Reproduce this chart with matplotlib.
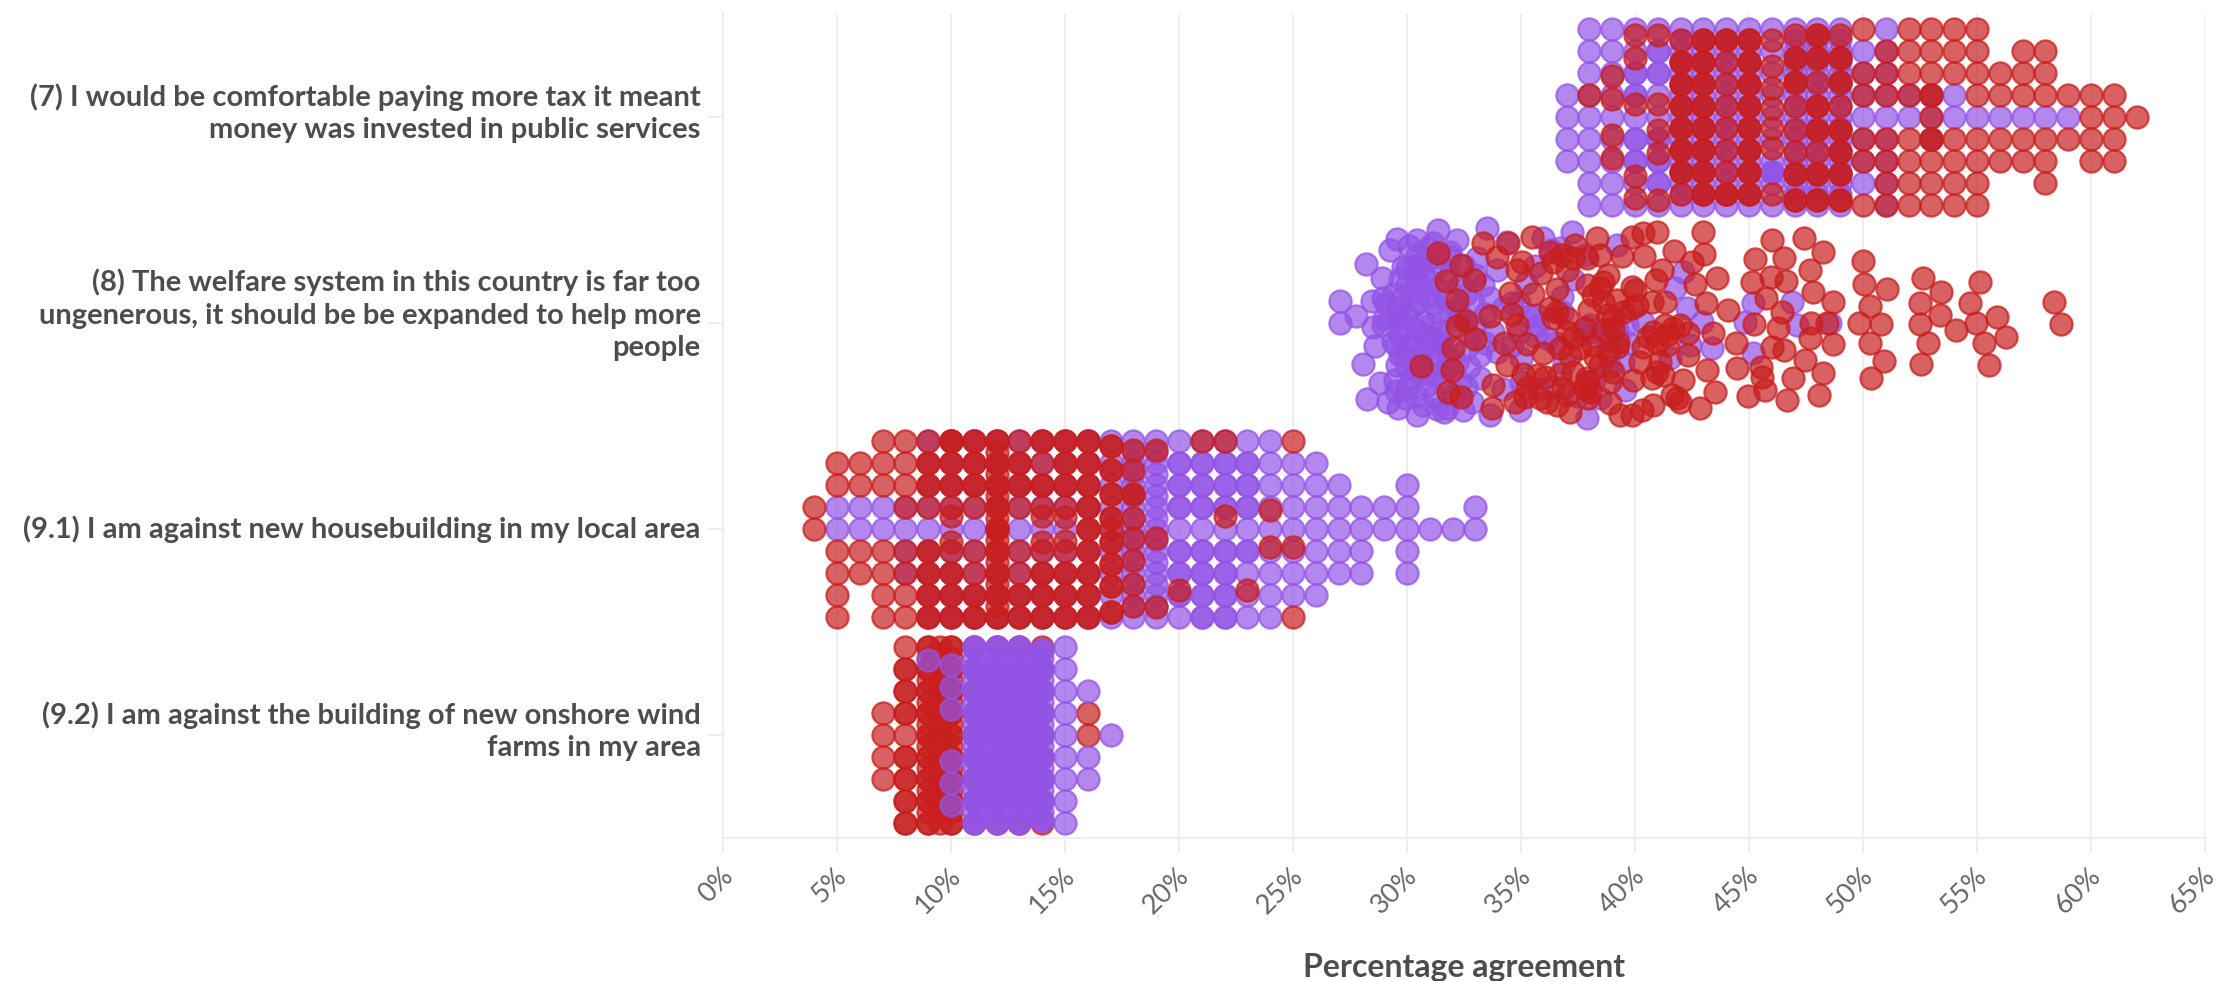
import matplotlib
matplotlib.use('Agg')
import matplotlib.pyplot as plt
from matplotlib.transforms import ScaledTranslation

questions = [
    '(7) I would be comfortable paying more tax it meant\nmoney was invested in public services',
    '(8) The welfare system in this country is far too\nungenerous, it should be be expanded to help more\npeople',
    '(9.1) I am against new housebuilding in my local area',
    '(9.2) I am against the building of new onshore wind\nfarms in my area',
]
x_ticks = list(range(0, 66, 5))
x_title = 'Percentage agreement'

ALL = [-4, -3, -2, -1, 0, 1, 2, 3, 4]
EVEN = [-3.5, -2.5, -1.5, -0.5, 0.5, 1.5, 2.5, 3.5]
WIDE = [-3.75, -2.7, -1.6, -0.5, 0.6, 1.6, 2.6, 3.75]
HALF = EVEN

# whole-percent questions: one list of swarm rows per percentage
q7_purple_pct = [37, 38, 39, 40, 41, 42, 43, 44, 45, 46, 47, 48, 49, 50, 51, 52, 53, 54, 55, 56, 57, 58, 59]
q7_purple_rows = [
    [-1, 0, 1, 2], ALL, ALL, ALL + [-2, -1, 1, 2], ALL + [-3, -2, 1, 2, 3],
    ALL + HALF, ALL + HALF, ALL + HALF, ALL + HALF, ALL + [2.5, 2.5, 2.5], ALL + HALF, ALL + HALF, ALL + HALF,
    [-3, -2, -1, 0, 1, 2, 3], ALL, [-1, 0], [-1, 0, 1], [-1, 0], [0], [0], [0], [0], [0],
]
q7_red_pct = [38, 39, 40, 41, 42, 43, 44, 45, 46, 47, 48, 49, 50, 51, 52, 53, 54, 55, 56, 57, 58, 59, 60, 61, 62]
q7_red_rows = [
    [-1], [-1.85, -0.8, 0.8, 1.85], [-3.75, -2.7, -0.6, 2.7, 3.7], [-3.75, -0.6, 0.6, 1.65, 3.75],
    EVEN + [-2.5, -1.5, -0.5, 0.5, 1.5, 2.5], EVEN + EVEN, EVEN + [-3.5, 3.5], EVEN + EVEN,
    [-3.5, -2.3, -1.3, -0.4, 0.5, 1.4, 3.5],
    WIDE + [-2.7, -1.6, 2.6, 3.75], WIDE + [-3.75, -2.7, -0.5, 0.6, 2.6, 3.75], WIDE + [-2.7, -1.6, 0.6, 1.6, 2.6, 3.75],
    [-4, -2, -1, 1, 2, 4], [-3, -2, -1, 1, 2, 3, 4], [-4, -3, -2, -1, 1, 2, 3, 4],
    [-4, -3, -2, -1, -1, 0, 1, 1, 2, 3, 4], [-4, -3, -2, 1, 2, 3, 4], [-4, -3, -2, -1, 1, 2, 3, 4],
    [-2, -1, 1, 2], [-3, -2, -1, 1, 2], [-3, -2, -1, 1, 2, 3], [-1, 1], [-1, 0, 1, 2], [-1, 0, 1, 2], [0],
]

# the welfare question has decimals, so percentage and swarm row per respondent
q8_purple_pct = [28.2, 28.89, 29.25, 29.57, 30.42, 31.37, 32.18, 33.49, 27.06, 27.76, 27.06, 28.45, 28.96, 28.52, 28.6, 28.08,
    28.81, 28.23, 29.18, 29.62, 30.45, 31.61, 32.47, 33.64, 34.95, 29.47, 29.55, 29.84, 30.42, 31.15, 31.88, 29.98, 30.71,
    31.45, 29.55, 30.5, 31.3, 28.96, 29.84, 30.71, 31.37, 29.4, 30.28, 31.08, 30.42, 31.15, 29.98, 30.86, 30.71, 31.74,
    29.69, 32.18, 32.91, 33.35, 33.05, 32.32, 32.18, 33.2, 33.2, 32.83, 33.93, 34.37, 35.98, 37.22, 35.76, 36.12, 35.69,
    33.79, 33.93, 33.64, 32.32, 31.59, 31.45,
    30.0, 30.8, 30.2, 31.0, 29.5, 30.6, 31.9, 31.6, 30.0, 30.3, 30.9, 29.9, 31.2, 31.9, 32.5, 32.8, 32.6, 29.3, 29.1,
    36.3, 37.3, 36.8, 36.5, 36.9, 36.4, 37.5, 35.2, 35.0, 34.6,
    39.2, 42.12, 41.76, 42.27, 42.93, 43.36, 45.19, 46.87, 44.83, 47.09, 48.55, 45.19, 41.54, 38.03, 39.64, 40.37, 37.88,
    39.56, 39.49, 39.71, 38.47, 42.41,
    29.0, 29.4, 29.8, 30.2, 30.5, 30.9, 31.2, 31.7, 29.7, 30.4, 31.0, 31.4, 31.9, 32.3, 29.7, 30.3, 30.7, 31.2, 31.8, 29.9,
    30.2, 30.7, 31.2, 31.7, 29.5, 30.4, 31.3, 32.0, 32.6, 32.7, 33.4, 33.0, 33.4, 32.6, 33.0, 32.5, 31.9, 31.3, 30.9, 30.1,
    30.0, 30.5, 29.7,
    34.2, 34.9, 35.4, 34.6, 34.9, 35.6, 35.0, 34.2, 35.8, 36.8, 37.7, 38.3, 38.8, 39.2, 35.6, 36.7, 37.8, 38.2, 38.9]
q8_purple_row = [-2.68, -2.03, -3.32, -3.82, -3.77, -4.23, -3.77, -4.3, -1.0, -0.33, 0.02, -1.0, -1.12, 0.17, 1.03, 1.86,
    2.71, 3.45, 3.61, 3.88, 4.18, 4.03, 3.95, 4.18, 3.95, 2.59, 1.91, -2.56, -3.09, -3.62, -3.24, -1.73, -2.18,
    -2.64, -0.67, -0.97, -1.58, 0.09, 0.24, -0.06, -0.52, 0.85, 1.15, 0.7, 2.21, 1.76, 2.97, 2.82, 3.73, 3.88,
    1.45, -0.67, -0.97, -1.73, -2.94, -1.73, 1.76, 1.45, 2.52, 3.58, -2.41, -3.7, -3.85, -4.15, 0.09, 0.7, -0.36,
    0.39, 1.3, -1.12, 2.67, 2.67, 0.85,
    -0.3, 0.5, -1.4, -1.9, 1.0, 1.7, 0.3, 1.1, 2.0, -2.6, -2.9, 3.4, 3.3, -2.2, -0.2, 0.6, 1.2, -0.3, -0.9,
    -3.3, -2.0, -1.2, 0.9, 1.8, 2.9, 3.3, -1.8, 1.6, -0.9,
    -3.55, -2.33, -1.58, -0.67, -0.06, 1.15, -0.89, -0.97, -0.06, 0.09, 0.02, 1.38, 1.61, 0.09, 0.09, -0.06, 4.33,
    3.05, 1.76, 0.92, 3.42, 1.0,
    -0.2, -1.3, -1.1, -0.7, -1.8, -1.2, -0.9, -1.1, -0.2, 0.3, 0.1, 0.4, -0.5, -0.2, 0.6, 0.8, 1.2, 1.4, 1.6, 1.5,
    2.5, 2.3, 2.3, 2.1, 3.1, 3.3, 3.9, 3.3, 2.9, 2.0, 0.9, 0.1, -0.4, -1.3, -2.2, -2.6, -3.0, -3.0, -3.4, -3.5,
    -2.5, -2.5, -2.0,
    -0.7, -0.9, -0.3, 1.0, 0.4, 0.6, 2.7, 3.0, 3.0, -0.5, 0.5, 0.4, 0.8, 0.3, -2.6, -3.4, -3.1, 2.6, 2.0]
q8_red_pct = [31.37, 32.35, 32.94, 31.71, 32.18, 32.59, 32.18, 32.98, 32.03, 31.97, 30.6, 31.81, 32.35, 33.35, 34.44, 35.47,
    37.37, 36.27, 33.93, 34.81, 35.03, 35.86, 34.52, 35.51, 33.64, 34.59, 34.81, 34.27, 35.28, 35.98, 34.37, 35.07, 33.79,
    33.71, 34.74, 35.17, 36.05, 36.71, 36.12, 36.86, 37.15, 37.15, 36.56, 37.0, 36.27, 37.0, 37.0,
    38.32, 39.42, 39.86, 40.37, 40.98, 40.4, 41.73, 42.49, 43.03, 43.0, 43.58, 42.63, 43.12, 41.17, 40.92, 39.89, 38.83,
    38.17, 37.88, 38.0, 39.05, 38.61, 39.86, 40.73, 41.32, 41.32, 41.98, 42.34, 40.59, 40.37, 39.2, 38.17, 41.39, 42.34,
    43.44, 39.05, 39.93, 38.9, 40.95, 42.12, 43.15, 43.51, 41.83, 40.81, 40.3, 39.86, 39.34, 38.9, 37.96, 37.88, 42.85,
    38.25, 40.22, 41.1, 38.83, 37.81,
    44.1, 44.43, 44.46, 46.0, 47.41, 48.23, 45.27, 46.54, 47.68, 45.12, 45.95, 46.63, 47.82, 48.7, 45.73, 46.44, 45.24,
    46.26, 47.71, 48.41, 47.68, 48.7, 46.54, 46.0, 47.46, 45.53, 45.56, 48.23, 46.95, 45.7, 44.97, 46.65, 48.07,
    49.99, 50.03, 51.04, 50.3, 49.81, 50.81, 50.32, 50.92, 50.37, 52.65, 53.43, 52.49, 53.39, 52.49, 54.06, 52.87, 52.56,
    55.11, 54.68, 54.95, 55.89, 56.29, 55.29, 55.51, 58.38, 58.69,
    37.88, 38.03, 38.47, 39.05, 39.27, 38.61, 38.47, 39.2, 38.83, 39.49, 40.81, 40.95, 41.39, 41.68, 40.73, 41.24, 41.61,
    41.98, 40.08, 40.0, 38.61, 37.88, 38.47,
    36.42, 36.56, 37.3, 36.71, 37.59, 37.3, 37.81, 36.42, 36.78, 37.29, 35.25, 35.69, 35.83, 36.56, 37.0]
q8_red_row = [-3.17, -2.64, -1.95, -1.91, -1.05, -0.09, 0.14, 0.73, 1.12, 2.14, 1.94, 3.12, 3.35, -3.62, -3.62, -3.92,
    -3.55, -3.21, -3.02, -2.41, -2.79, -2.26, -1.35, -1.32, -0.32, -0.39, 0.09, 0.92, 0.97, 1.38, 1.91, 2.33, 2.82,
    3.85, 3.58, 3.35, 2.44, 2.33, 3.58, 2.97, 4.03, 1.45, -1.55, -2.41, -0.67, -0.21, 0.39,
    -3.85, -3.06, -3.92, -4.08, -4.15, -3.06, -3.27, -2.79, -3.12, -4.12, -2.06, -1.76, -0.89, -2.41, -1.95, -1.65, -2.18,
    -1.27, -1.73, -0.59, -0.24, 0.32, -0.7, -0.94, -0.97, 0.09, 0.09, 0.47, 0.62, 1.08, 1.08, 1.0, 1.0, 1.45,
    0.47, 2.21, 2.59, 2.67, 2.21, 2.59, 2.14, 3.15, 3.42, 3.73, 3.95, 4.18, 4.18, 3.65, 3.42, 2.52, 3.88,
    1.53, 1.76, 1.76, 1.3, 0.24,
    -0.59, 0.89, 2.06, -3.77, -3.85, -3.24, -2.89, -2.94, -2.41, -1.88, -2.11, -1.92, -1.42, -0.94, -1.12, -0.52, 0.06,
    0.21, 0.02, 0.02, 0.7, 0.97, 1.23, 1.11, 1.68, 1.98, 2.44, 2.29, 2.52, 3.05, 3.3, 3.5, 3.27,
    -2.82, -1.77, -1.53, -0.77, 0.02, 0.05, 0.92, 1.71, 2.52, -2.03, -1.39, -0.92, -0.36, 0.05, 0.32, 0.92, 1.86,
    -1.85, -0.92, 0.02, -0.29, 0.65, 0.92, 1.91, -0.97, 0.05,
    2.67, 3.12, 1.91, 0.24, 0.85, -0.97, -1.58, -1.05, -0.36, -0.52, 0.39, 0.92, 0.55, 0.24, 2.52, 2.36, 3.27,
    3.58, -0.82, -1.5, -1.88, -2.94, -3.09,
    -0.21, -0.52, 0.7, 1.15, 1.15, 2.21, 2.97, -2.79, -3.09, -2.94, 2.97, 2.36, 3.42, 3.73, 3.27]

q91_purple_pct = [5, 6, 7, 8, 9, 10, 11, 12, 13, 14, 15, 16, 17, 18, 19, 20, 21, 22, 23, 24, 25, 26, 27, 28, 29, 30, 31, 32, 33]
q91_purple_rows = [
    [-1, 0], [-1, 0], [-1, 0], [-1, 0, 1, 2], ALL, ALL, ALL, ALL, ALL, ALL, ALL, ALL, ALL, ALL + HALF, ALL + HALF,
    ALL + [-3, -2, -1, 1, 2, 3], ALL + [-3, -2, -1, 1, 2, 3, 4], ALL + [-3, -2, -1, 1, 2, 3, 4], ALL + [-3, -2, -1, 1],
    ALL, [-3, -2, -1, 0, 1, 2, 3], [-3, -2, -1, 0, 1, 2, 3], [-2, -1, 0, 1, 2], [-1, 0, 1, 2], [-1, 0],
    [-2, -1, 0, 1, 2], [0], [0], [-1, 0],
]
q91_red_pct = [4, 5, 6, 7, 8, 9, 10, 11, 12, 13, 14, 15, 16, 17, 18, 19, 20, 21, 22, 23, 24, 25]
q91_red_rows = [
    [-1, 0], [-3, -2, 1, 2, 3, 4], [-3, -2, 1, 2], [-4, -3, -2, 1, 2, 3, 4], [-4, -3, -2, -1, 1, 2, 3, 4],
    [-4, -3, -3, -2, -2, -1, 1, 1, 2, 2, 3, 3, 4, 4],
    [-4, -4, -4, -3, -3, -2, -2, -1, -0.6, 0.6, 1, 2, 2, 3, 3, 4, 4],
    [-4, -4, -3, -3, -2, -2, -1, 1, 2, 3, 3, 4, 4],
    ALL + ALL + EVEN + [0],
    [-4, -3, -3, -2, -2, -1, 1, 2, 3, 3, 4, 4],
    [-4, -4, -3, -2, -2, -1, -0.6, 0.6, 1, 2, 2, 3, 3, 4, 4],
    [-4, -4, -3, -3, -2, -2, -1, -0.55, 0.55, 1, 2, 2, 3, 3, 4, 4],
    ALL + ALL, WIDE + WIDE + [0], [-3.6, -2.7, -1.6, -1.6, -0.5, 0.4, 1.4, 2.5, 3.5],
    [-3.6, 0.4, 3.55], [2.75], [-4], [-4, -0.6], [2.75], [-0.85, 0.8], [-4, 0.8, 4],
]

q92_red_pct = [7, 8, 9, 9.5, 10, 11, 12, 13, 14, 16]
q92_red_rows = [
    [-1, 0, 1, 2], [-4, -3, -3, -2, -2, -1, -1, 0, 1, 1, 2, 2, 3, 3, 4, 4],
    ALL + ALL + EVEN, ALL + EVEN, ALL + ALL + EVEN, ALL, ALL, ALL, ALL, [-1, 0],
]
q92_purple_pct = [9, 10, 11, 11.5, 12, 12.5, 13, 13.5, 14, 15, 16, 17]
q92_purple_rows = [
    [-3.4], [-3.2, -2.2, -1.2, 1.2, 2.2, 3.2],
    ALL + ALL + EVEN, EVEN + ALL[1:-1], ALL + ALL + EVEN, EVEN + ALL[1:-1], ALL + ALL + EVEN, EVEN + ALL[1:-1],
    [-3.85, -3, -2, -1, 0, 1, 2, 3, 3.85] * 2 + EVEN,
    ALL, [-2, 1, 2], [0],
]

PURPLE = '#9354e6'
RED = '#c81e1e'
GRID = '#eeeeee'
W, H = 2222, 981
left, right, top, bottom = 723, 2205, 14, 838
row_step = 22 / ((bottom - top) / 4)


def columns(pct, rows):
    xs, ys = [], []
    for p, rr in zip(pct, rows):
        for r in rr:
            xs.append(p)
            ys.append(r)
    return xs, ys


def swarm(ax, idx, xs, rows, color):
    ys = [idx + 0.5 + r * row_step for r in rows]
    rgb = matplotlib.colors.to_rgb(color)
    ax.scatter(xs, ys, s=255, facecolors=[rgb + (0.7,)], edgecolors=[rgb + (0.75,)],
               linewidths=1.6, zorder=3, clip_on=False)


fig = plt.figure(figsize=(W / 100, H / 100), dpi=100)
ax = fig.add_axes([left / W, 1 - bottom / H, (right - left) / W, (bottom - top) / H])
ax.set_xlim(0, 65)
ax.set_ylim(4, 0)

swarm(ax, 0, *columns(q7_purple_pct, q7_purple_rows), PURPLE)
swarm(ax, 0, *columns(q7_red_pct, q7_red_rows), RED)
swarm(ax, 1, q8_purple_pct, q8_purple_row, PURPLE)
swarm(ax, 1, q8_red_pct, q8_red_row, RED)
swarm(ax, 2, *columns(q91_purple_pct, q91_purple_rows), PURPLE)
swarm(ax, 2, *columns(q91_red_pct, q91_red_rows), RED)
swarm(ax, 3, *columns(q92_red_pct, q92_red_rows), RED)
swarm(ax, 3, *columns(q92_purple_pct, q92_purple_rows), PURPLE)

ax.set_xticks(x_ticks)
ax.set_xticklabels([f'{t}%' for t in x_ticks], rotation=45, ha='right', va='top',
                   fontsize=19.5, color='#666666', family='Lato')
ax.set_yticks([0.5, 1.5, 2.5, 3.5])
ax.set_yticklabels(questions, fontsize=21, fontweight='bold', color='#4d4d4d', family='Lato',
                   linespacing=1.3, ha='right', va='center')
ax.tick_params(axis='x', length=11, width=1.5, color=GRID, pad=7)
ax.tick_params(axis='y', length=11, width=1.5, color=GRID, pad=5)
shift = ScaledTranslation(15 / 100, 0, fig.dpi_scale_trans)
for lab in ax.get_xticklabels():
    lab.set_transform(lab.get_transform() + shift)
# wrapped labels sit a little above their tick
for lab in ax.get_yticklabels():
    extra = lab.get_text().count('\n')
    lab.set_transform(lab.get_transform() + ScaledTranslation(0, 4 * extra / 100, fig.dpi_scale_trans))

ax.grid(axis='x', color=GRID, lw=1.5, zorder=0)
ax.set_axisbelow(True)
for side in ['top', 'right']:
    ax.spines[side].set_visible(False)
for side in ['left', 'bottom']:
    ax.spines[side].set_color(GRID)
    ax.spines[side].set_linewidth(1.5)

ax.set_xlabel(x_title, fontsize=23, fontweight='bold', color='#4d4d4d', family='Lato', labelpad=25)

fig.savefig('out.png', dpi=100)
